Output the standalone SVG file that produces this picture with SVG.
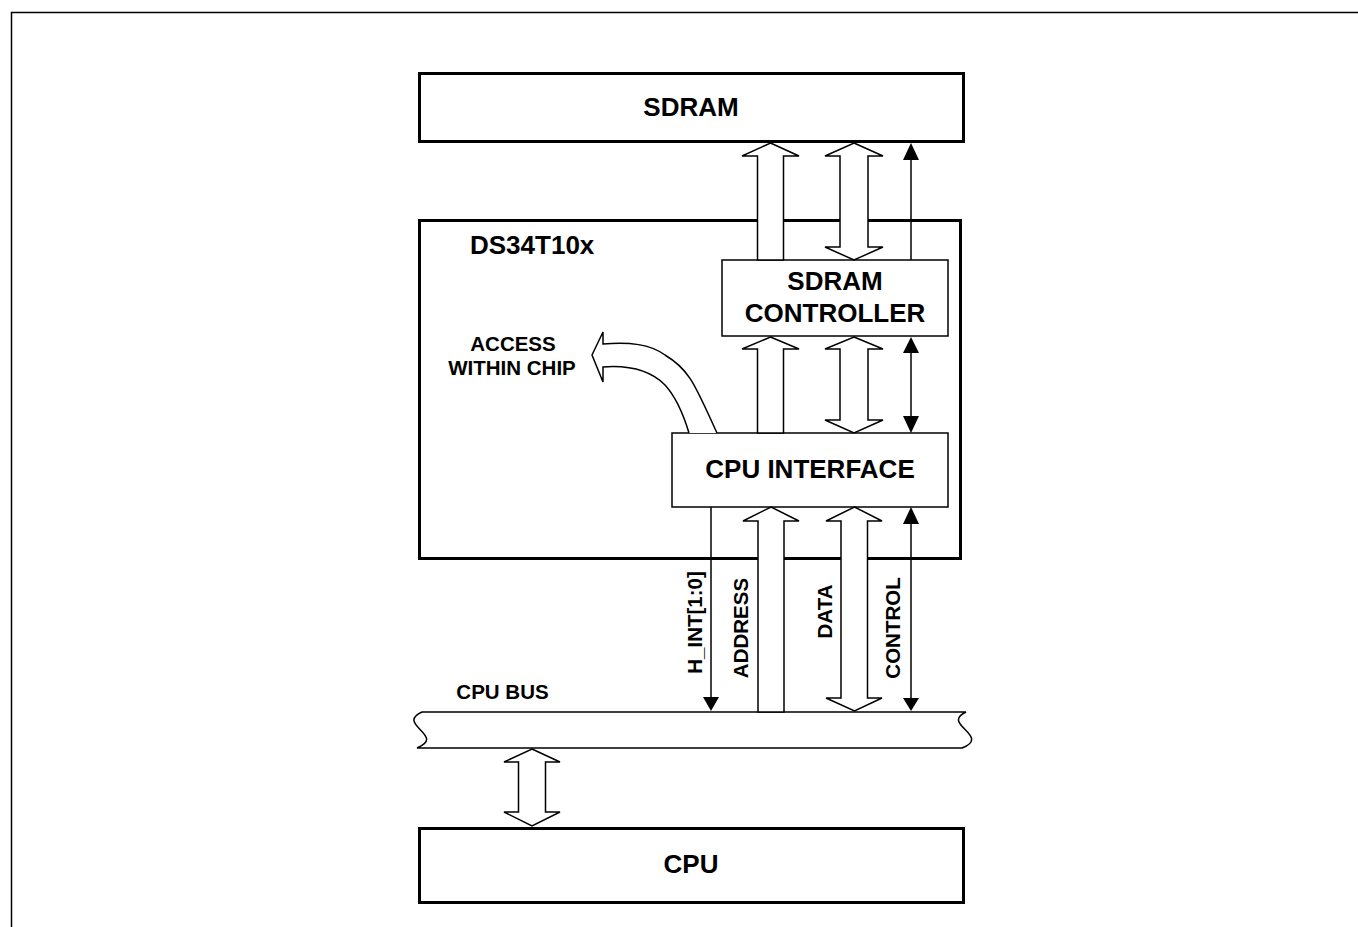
<svg xmlns="http://www.w3.org/2000/svg" width="1358" height="927" viewBox="0 0 1358 927">
<style>
.thick{fill:#fff;stroke:#000;stroke-width:3}
.box{fill:#fff;stroke:#000;stroke-width:1.5}
.hollow{fill:#fff;stroke:#000;stroke-width:1.5;stroke-linejoin:miter}
.ln{fill:none;stroke:#000;stroke-width:1.5}
.head{fill:#000;stroke:none}
.big{font-family:"Liberation Sans",Arial,sans-serif;font-weight:bold;font-size:26px;fill:#000}
.sm{font-family:"Liberation Sans",Arial,sans-serif;font-weight:bold;font-size:20.5px;fill:#000}
</style>
<rect width="1358" height="927" fill="#fff"/>
<path class="ln" d="M11.5,930 V12.5 H1362"/>

<g id="sdram">
<rect class="thick" x="419.5" y="73.5" width="544" height="68"/>
<text class="big" x="691" y="116" text-anchor="middle">SDRAM</text>
</g>

<g id="ds34t10x">
<rect class="thick" x="419.5" y="220.5" width="541" height="338"/>
<text class="big" x="470" y="254">DS34T10x</text>
</g>

<g id="sdram-controller">
<rect class="box" x="722" y="260" width="226" height="76"/>
<text class="big" x="835" y="290" text-anchor="middle">SDRAM</text>
<text class="big" x="835" y="322" text-anchor="middle">CONTROLLER</text>
</g>

<g id="cpu-interface">
<rect class="box" x="672" y="433" width="276" height="74"/>
<text class="big" x="810" y="478" text-anchor="middle">CPU INTERFACE</text>
</g>

<g id="cpu-bus">
<path class="box" d="M422,712 L966,712 C940,724 992,736 962,748 L417,748 C447,736 395,724 422,712 Z"/>
<text class="sm" x="502.5" y="699" text-anchor="middle">CPU BUS</text>
</g>

<g id="cpu">
<rect class="thick" x="419.5" y="828.5" width="544" height="74"/>
<text class="big" x="691" y="873" text-anchor="middle">CPU</text>
</g>

<g id="access-label">
<text class="sm" x="513" y="351" text-anchor="middle">ACCESS</text>
<text class="sm" x="512" y="375" text-anchor="middle">WITHIN CHIP</text>
</g>

<g id="connectors">
<path class="hollow" d="M770.5,143 L799,156 L783.5,156 L783.5,260 L757.5,260 L757.5,156 L742,156 Z"/>
<path class="hollow" d="M854,143 L883,156 L868,156 L868,247 L883,247 L854,260 L825,247 L840,247 L840,156 L825,156 Z"/>
<line class="ln" x1="911" y1="260" x2="911" y2="158"/>
<path class="head" d="M911,143 L919,160 L903,160 Z"/>

<path class="hollow" d="M770.5,337 L799,349 L783.5,349 L783.5,433 L757.5,433 L757.5,349 L742,349 Z"/>
<path class="hollow" d="M854,337 L883,349 L868,349 L868,420 L883,420 L854,433 L825,420 L840,420 L840,349 L825,349 Z"/>
<line class="ln" x1="911" y1="350" x2="911" y2="419"/>
<path class="head" d="M911,337 L919,353 L903,353 Z"/>
<path class="head" d="M911,433 L919,416 L903,416 Z"/>

<path class="hollow" d="M717,433 C695,385 690,370 665,355 C650,344 630,342 603,344 L603,332 L592,355 L603,382 L603,367 C630,365 650,370 665,385 C675,396 683,413 689,433"/>

<line class="ln" x1="711" y1="507" x2="711" y2="699"/>
<path class="head" d="M711,711 L719,697 L703,697 Z"/>
<path class="hollow" d="M771,507 L799,521 L784,521 L784,712 L758,712 L758,521 L743,521 Z"/>
<path class="hollow" d="M854.5,507 L882,521 L867.5,521 L867.5,698 L882,698 L854.5,711 L826,698 L841,698 L841,521 L826,521 Z"/>
<line class="ln" x1="911" y1="520" x2="911" y2="700"/>
<path class="head" d="M911,507 L919,524 L903,524 Z"/>
<path class="head" d="M911,711 L919,698 L903,698 Z"/>

<path class="hollow" d="M532,749 L560,762 L545.5,762 L545.5,812 L560,812 L532,826 L504,812 L518.5,812 L518.5,762 L504,762 Z"/>
</g>

<g id="bus-labels">
<text class="sm" transform="translate(701.5,622.5) rotate(-90)" text-anchor="middle">H_INT[1:0]</text>
<text class="sm" transform="translate(748,628) rotate(-90)" text-anchor="middle">ADDRESS</text>
<text class="sm" transform="translate(831.5,611.5) rotate(-90)" text-anchor="middle">DATA</text>
<text class="sm" transform="translate(900,628) rotate(-90)" text-anchor="middle">CONTROL</text>
</g>
</svg>
